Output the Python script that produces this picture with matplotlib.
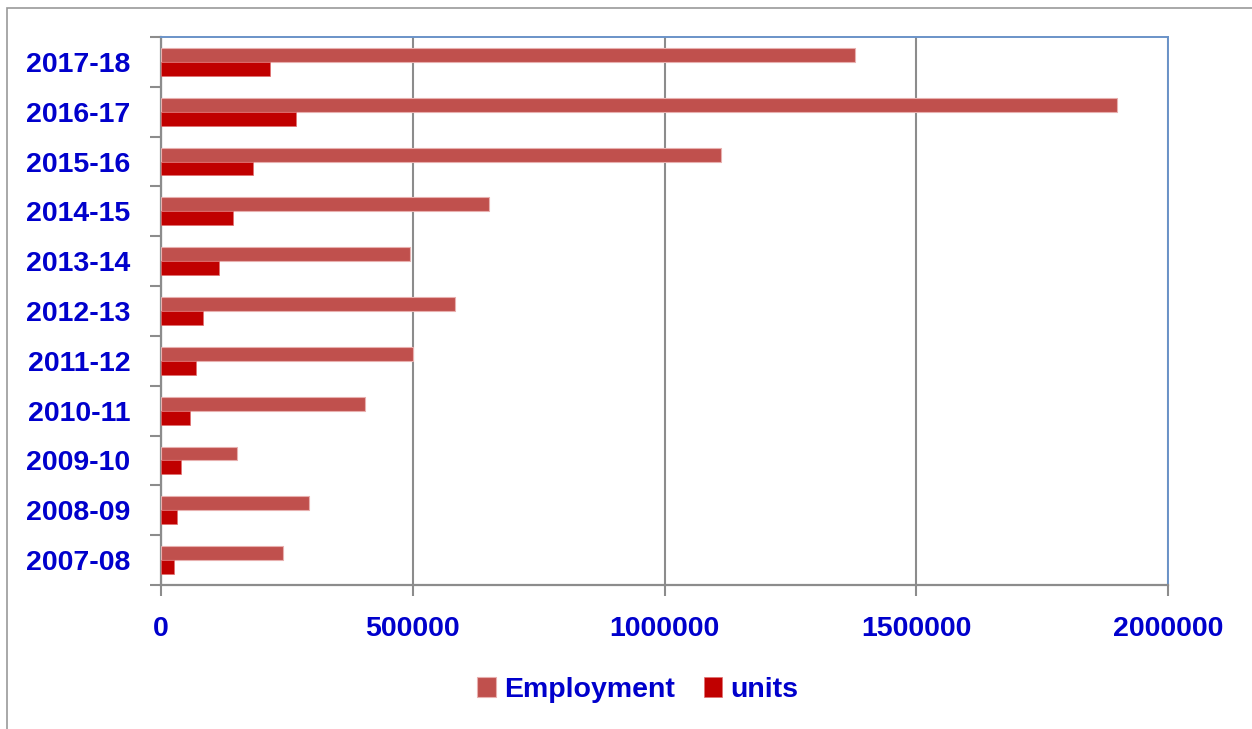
import numpy as np
import matplotlib
matplotlib.use('Agg')
import matplotlib.pyplot as plt
from matplotlib.patches import Rectangle

" Data, bottom category first "
years = ['2007-08', '2008-09', '2009-10', '2010-11', '2011-12', '2012-13',
         '2013-14', '2014-15', '2015-16', '2016-17', '2017-18']
employment = [242000, 294000, 151000, 405000, 500500, 584000,
              494500, 651500, 1112000, 1898500, 1378000]
units = [26000, 32000, 40000, 57500, 70000, 83000,
         115000, 143000, 183000, 268000, 216000]
xticks = [0, 500000, 1000000, 1500000, 2000000]

blue = '#0000CC'
grey = '#8C8C8C'
plt.rcParams['font.family'] = ['Liberation Sans', 'DejaVu Sans']

fig = plt.figure(figsize=(12.52, 7.29), dpi=100)
ax = fig.add_axes([161/1252, 1-585/729, (1168-161)/1252, (585-37)/729])

y = np.arange(len(years))
h = 0.28
ax.barh(y + h/2, employment, height=h, color='#C0504D', edgecolor='#E8B0AF',
        lw=0.8, label='Employment', zorder=3)
ax.barh(y - h/2, units, height=h, color='#C00000', edgecolor='#E07070',
        lw=0.5, label='units', zorder=3)

ax.set_xlim(0, 2000000)
ax.set_ylim(-0.5, len(years) - 0.5)
ax.set_xticks(xticks)
ax.set_xticklabels([str(v) for v in xticks])
ax.xaxis.grid(True, color=grey, lw=1.5, zorder=0)
ax.set_axisbelow(True)

" Category labels on minor ticks, tick marks on boundaries "
ax.set_yticks(np.arange(-0.5, len(years), 1.0))
ax.set_yticklabels([])
ax.set_yticks(y, minor=True)
ax.set_yticklabels(years, minor=True)
ax.tick_params(axis='y', which='major', length=8, width=1.5, color=grey)
ax.tick_params(axis='y', which='minor', length=0, pad=22,
               labelsize=20.5, labelcolor=blue)
ax.tick_params(axis='x', length=8, width=1.5, color=grey, pad=14,
               labelsize=20.5, labelcolor=blue)
for t in ax.get_yticklabels(minor=True) + ax.get_xticklabels():
    t.set_fontweight('bold')

for s in ['left', 'bottom']:
    ax.spines[s].set_color(grey)
    ax.spines[s].set_linewidth(1.6)
for s in ['top', 'right']:
    ax.spines[s].set_color('#6A93C8')
    ax.spines[s].set_linewidth(1.4)

" Outer chart frame (only left and top visible) "
fig.add_artist(Rectangle((7/1252, -0.1), 1.2, 1.1 - 8/729,
                         transform=fig.transFigure, fill=False,
                         edgecolor='#999999', lw=1.2))

leg = fig.legend(loc='center', bbox_to_anchor=(638/1252, 1-690/729), ncol=2,
                 frameon=False, handlelength=0.65, handleheight=0.65,
                 handletextpad=0.3, columnspacing=1.0,
                 prop={'size': 20.5, 'weight': 'bold'})
for t in leg.get_texts():
    t.set_color(blue)

plt.savefig('out.png', dpi=100)
